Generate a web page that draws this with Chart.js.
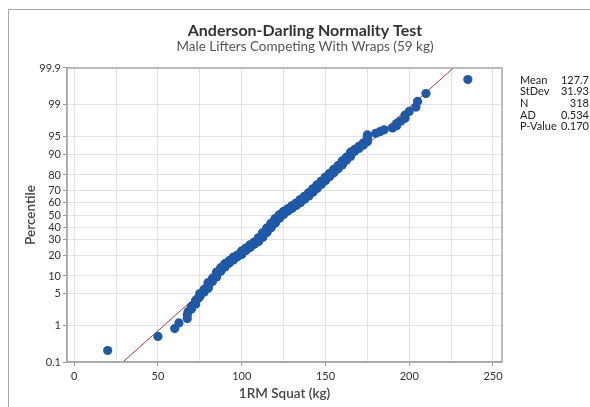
<!DOCTYPE html>
<html>
<head>
<meta charset="utf-8">
<script src="https://cdn.jsdelivr.net/npm/chart.js@4.4.1/dist/chart.umd.min.js"></script>
<style>
  html, body { margin: 0; padding: 0; background: #ffffff; overflow: hidden; }
  #wrap { position: relative; width: 590px; height: 407px; }
  #panel { position: absolute; left: 8px; top: 9px; width: 700px; height: 500px;
           border-left: 1px solid #a8a8a8; border-top: 1px solid #a8a8a8; }
  canvas { position: absolute; left: 0; top: 0; }
</style>
</head>
<body>
<div id="wrap">
  <div id="panel"></div>
  <canvas id="c" width="590" height="407"></canvas>
</div>
<script>
// ---- Data ----
const chartTitle = 'Anderson-Darling Normality Test';
const chartSubtitle = 'Male Lifters Competing With Wraps (59 kg)';
const xAxisTitle = '1RM Squat (kg)';
const yAxisTitle = 'Percentile';

// sorted 1RM squat values (kg), 318 lifters
const squatValues = [
  20, 50, 60, 62.5, 67.5,
  67.5, 68, 70, 70, 72.5,
  72.5, 72.5, 74, 75, 75, 75,
  77.5, 77.5, 77.5, 80, 80, 80,
  80, 80, 80, 82.5, 82.5, 82.5, 82.5, 83, 85, 85,
  85, 85, 85, 85, 85,
  87.5, 87.5, 87.5, 87.5, 87.5, 87.5,
  90, 90, 90, 90, 90, 90,
  92.5, 92.5, 92.5, 92.5, 92.5,
  95, 95, 95, 95, 95, 95,
  97.5, 97.5, 97.5, 97.5,
  100, 100, 100, 100, 100, 100, 100, 100,
  102.5, 102.5, 102.5, 102.5, 102.5, 102.5,
  105, 105, 105, 105, 105, 105, 105,
  107.5, 107.5, 107.5, 107.5, 107.5, 107.5,
  110, 110, 110, 110, 110,
  110, 110, 110, 110, 110,
  112.5, 112.5, 112.5, 112.5, 112.5, 112.5, 112.5, 112.5, 112.5, 112.5, 112.5, 112.5,
  115, 115, 115, 115, 115, 115, 115, 115, 115, 115, 115, 115,
  117.5, 117.5, 117.5,
  117.5, 117.5, 117.5, 117.5, 117.5, 117.5, 117.5, 117.5, 117.5,
  120, 120, 120, 120, 120, 120, 120, 120, 120, 120, 120, 120, 120,
  122.5, 122.5, 122.5, 122.5, 122.5, 122.5, 122.5, 122.5, 122.5, 122.5,
  125, 125, 125, 125, 125, 125, 125, 125, 125,
  127.5, 127.5, 127.5, 127.5, 127.5, 127.5, 127.5,
  130, 130, 130, 130, 130, 130, 130, 130,
  132.5, 132.5, 132.5, 132.5, 132.5, 132.5, 132.5,
  135, 135, 135, 135, 135, 135, 135, 135, 135,
  137.5, 137.5, 137.5, 137.5, 137.5, 137.5, 137.5, 137.5,
  140, 140, 140, 140, 140, 140, 140, 140, 140,
  142.5, 142.5, 142.5, 142.5, 142.5, 142.5,
  142.5, 142.5, 142.5,
  145, 145, 145, 145, 145, 145, 145, 145, 145,
  147.5, 147.5, 147.5, 147.5, 147.5, 147.5, 147.5, 147.5,
  150, 150, 150, 150, 150, 150, 150, 150,
  152.5, 152.5, 152.5, 152.5,
  152.5, 152.5, 152.5,
  155, 155, 155, 155, 155, 155, 155,
  157.5, 157.5, 157.5, 157.5, 157.5, 157.5,
  160, 160, 160, 160, 160, 160, 160,
  162.5, 162.5, 162.5, 162.5, 162.5,
  165, 165, 165, 165,
  165, 165, 167.5, 167.5, 167.5, 170, 170, 170, 172.5, 172.5, 172.5,
  175, 175, 175, 175, 175, 175,
  180, 182.5, 185, 190, 192.5, 192.5, 195, 197.5, 197.5, 200, 204, 205, 210, 235
];

// fitted normal line parameters and summary statistics
const fitMean = 127.7;
const fitStDev = 31.93;
const statLabels = ['Mean', 'StDev', 'N', 'AD', 'P-Value'];
const statValues = ['127.7', '31.93', '318', '0.534', '0.170'];

// axis ticks
const yTickLabels = ['0.1', '1', '5', '10', '20', '30', '40', '50', '60', '70', '80', '90', '95', '99', '99.9'];
const xTickValues = [0, 25, 50, 75, 100, 125, 150, 175, 200, 225, 250];
const xLabelStep = 50;

// ---- probability-scale helpers ----
function normInv(p) {
  const a = [-3.969683028665376e+01, 2.209460984245205e+02, -2.759285104469687e+02, 1.383577518672690e+02, -3.066479806614716e+01, 2.506628277459239e+00];
  const b = [-5.447609879822406e+01, 1.615858368580409e+02, -1.556989798598866e+02, 6.680131188771972e+01, -1.328068155288572e+01];
  const c = [-7.784894002430293e-03, -3.223964580411365e-01, -2.400758277161838e+00, -2.549732539343734e+00, 4.374664141464968e+00, 2.938163982698783e+00];
  const d = [7.784695709041462e-03, 3.224671290700398e-01, 2.445134137142996e+00, 3.754408661907416e+00];
  const pl = 0.02425, ph = 1 - pl;
  let q, r;
  if (p < pl) {
    q = Math.sqrt(-2 * Math.log(p));
    return (((((c[0]*q+c[1])*q+c[2])*q+c[3])*q+c[4])*q+c[5]) / ((((d[0]*q+d[1])*q+d[2])*q+d[3])*q+1);
  }
  if (p <= ph) {
    q = p - 0.5; r = q * q;
    return (((((a[0]*r+a[1])*r+a[2])*r+a[3])*r+a[4])*r+a[5])*q / (((((b[0]*r+b[1])*r+b[2])*r+b[3])*r+b[4])*r+1);
  }
  q = Math.sqrt(-2 * Math.log(1 - p));
  return -(((((c[0]*q+c[1])*q+c[2])*q+c[3])*q+c[4])*q+c[5]) / ((((d[0]*q+d[1])*q+d[2])*q+d[3])*q+1);
}

const n = squatValues.length;
// median-rank plotting positions (Minitab default), placed on the normal-probability axis
const points = squatValues.map((v, i) => ({ x: v, y: normInv((i + 1 - 0.3) / (n + 0.4)) }));
const zMin = normInv(0.001), zMax = normInv(0.999);
const fitLine = [
  { x: fitMean + zMin * fitStDev, y: zMin },
  { x: fitMean + zMax * fitStDev, y: zMax }
];

const FONT = 'Lato, "Open Sans", "DejaVu Sans", sans-serif';

const decorPlugin = {
  id: 'decor',
  afterDraw(chart) {
    const ctx = chart.ctx;
    const a = chart.chartArea;
    ctx.save();
    // plot frame
    ctx.strokeStyle = '#a9a9a9';
    ctx.lineWidth = 1.5;
    ctx.strokeRect(a.left, a.top, a.right - a.left, a.bottom - a.top);
    // titles
    ctx.textAlign = 'center';
    ctx.textBaseline = 'middle';
    ctx.fillStyle = '#333333';
    ctx.font = 'bold 16px ' + FONT;
    ctx.fillText(chartTitle, 305, 31);
    ctx.fillStyle = '#555555';
    ctx.font = '13.5px ' + FONT;
    ctx.fillText(chartSubtitle, 305, 47);
    // axis titles
    ctx.fillStyle = '#444444';
    ctx.font = '600 13.5px ' + FONT;
    ctx.fillText(xAxisTitle, (a.left + a.right) / 2, 394);
    ctx.save();
    ctx.translate(31, (a.top + a.bottom) / 2);
    ctx.rotate(-Math.PI / 2);
    ctx.fillText(yAxisTitle, 0, 0);
    ctx.restore();
    // stats table
    ctx.font = '11px ' + FONT;
    ctx.fillStyle = '#222222';
    statLabels.forEach((lab, i) => {
      const y = 80 + i * 11.7;
      ctx.textAlign = 'left';
      ctx.fillText(lab, 520, y);
      ctx.textAlign = 'right';
      ctx.fillText(statValues[i], 589, y);
    });
    ctx.restore();
  }
};

new Chart(document.getElementById('c'), {
  type: 'scatter',
  data: {
    datasets: [
      {
        label: 'data',
        data: points,
        order: 0,
        pointRadius: 4.6,
        pointHoverRadius: 4.6,
        pointBackgroundColor: '#1f5aa8',
        pointBorderWidth: 0,
        borderColor: '#1f5aa8'
      },
      {
        label: 'fit',
        type: 'line',
        data: fitLine,
        order: 1,
        showLine: true,
        borderColor: '#b03a3e',
        borderWidth: 1,
        pointRadius: 0,
        fill: false
      }
    ]
  },
  options: {
    responsive: false,
    animation: false,
    devicePixelRatio: 1,
    layout: { padding: { left: 0, top: 68, right: 88, bottom: 0 } },
    plugins: { legend: { display: false }, tooltip: { enabled: false }, title: { display: false } },
    scales: {
      x: {
        type: 'linear',
        min: -4.3,
        max: 255.4,
        afterBuildTicks: (s) => { s.ticks = xTickValues.map(v => ({ value: v })); },
        afterFit: (s) => { s.height = 45; },
        ticks: {
          callback: (v) => (v % xLabelStep === 0 ? String(v) : ''),
          color: '#333333',
          font: { family: FONT, size: 11 },
          padding: 4,
          maxRotation: 0,
          autoSkip: false
        },
        grid: {
          color: '#e3e3e3',
          lineWidth: 1,
          tickLength: 4,
          tickColor: (ctx) => (ctx.tick && ctx.tick.value % xLabelStep === 0 ? '#9a9a9a' : 'rgba(0,0,0,0)')
        },
        border: { display: true, color: '#a9a9a9', width: 1.5 }
      },
      y: {
        type: 'linear',
        min: zMin,
        max: zMax,
        afterBuildTicks: (s) => { s.ticks = yTickLabels.map(t => ({ value: normInv(parseFloat(t) / 100) })); },
        afterFit: (s) => { s.width = 67; },
        ticks: {
          callback: (v, i) => yTickLabels[i],
          color: '#333333',
          font: { family: FONT, size: 11 },
          padding: 2,
          autoSkip: false
        },
        grid: {
          color: '#e3e3e3',
          lineWidth: 1,
          tickLength: 4,
          tickColor: '#9a9a9a'
        },
        border: { display: true, color: '#a9a9a9', width: 1.5 }
      }
    }
  },
  plugins: [decorPlugin]
});
</script>
</body>
</html>
